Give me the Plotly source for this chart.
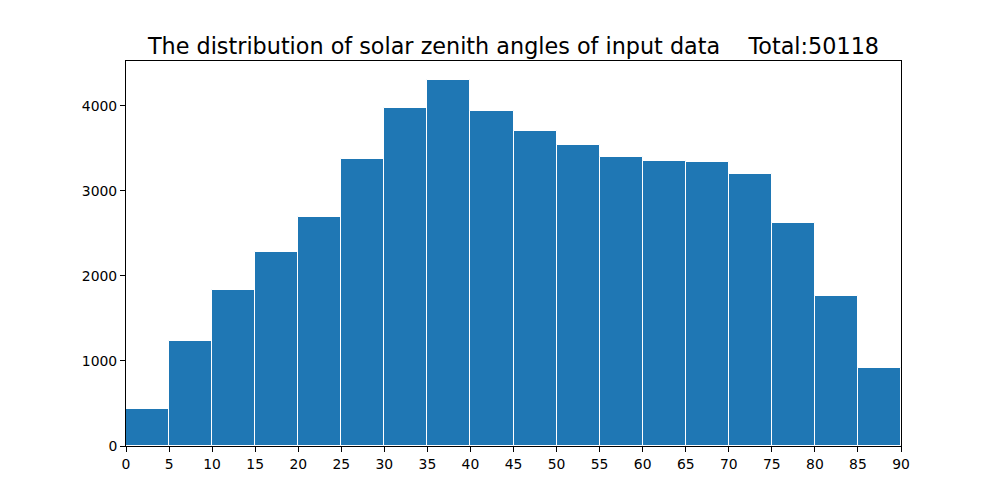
import plotly.graph_objects as go

# histogram of solar zenith angles, bins of 5 degrees
bin_starts = [0, 5, 10, 15, 20, 25, 30, 35, 40, 45, 50, 55, 60, 65, 70, 75, 80, 85]
counts = [431, 1231, 1831, 2278, 2694, 3373, 3973, 4302, 3937,
          3702, 3537, 3396, 3353, 3341, 3196, 2620, 1761, 914]
x_ticks = list(range(0, 95, 5))
y_ticks = [0, 1000, 2000, 3000, 4000]
total = 50118

fig = go.Figure()
fig.add_trace(go.Bar(
    x=[b + 2.5 for b in bin_starts],
    y=counts,
    width=5,
    marker=dict(color='#1f77b4', line=dict(color='white', width=1)),
))

fig.update_layout(
    title=dict(
        text='The distribution of solar zenith angles of input data\u00a0\u00a0\u00a0\u00a0Total:' + str(total),
        x=0.5055, xanchor='center', y=0.924, yanchor='middle',
        font=dict(size=22.3, color='black'),
    ),
    font=dict(family='DejaVu Sans', color='black'),
    width=1000, height=500,
    margin=dict(l=118, r=107, t=53, b=62),
    plot_bgcolor='white', paper_bgcolor='white',
    bargap=0, showlegend=False,
)
fig.update_xaxes(
    range=[0, 90], tickvals=x_ticks, ticks='outside', ticklen=5, tickcolor='black',
    showline=True, linecolor='black', linewidth=1, mirror=True,
    showgrid=False, zeroline=False, tickfont=dict(size=13.9),
)
fig.update_yaxes(
    range=[0, 4529], tickvals=y_ticks, ticks='outside', ticklen=5, tickcolor='black',
    showline=True, linecolor='black', linewidth=1, mirror=True,
    showgrid=False, zeroline=False, tickfont=dict(size=13.9),
)

fig.write_html("out.html")
